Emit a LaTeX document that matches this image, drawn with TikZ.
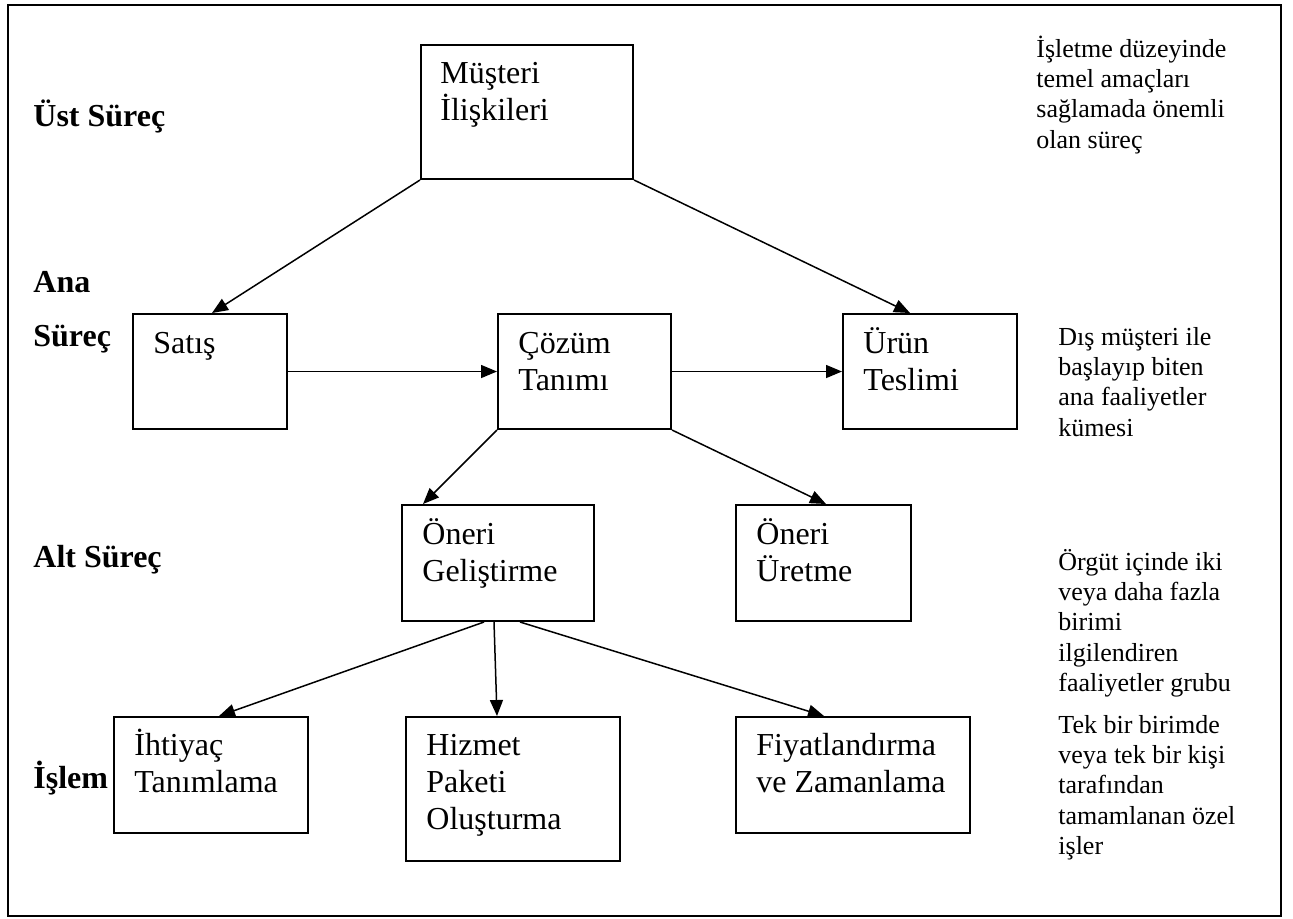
\documentclass[tikz,border=0pt]{standalone}
\usepackage{fontspec}
\setmainfont{Liberation Serif}
\usetikzlibrary{arrows.meta,calc}

\newcommand\lines[1]{\begin{tabular}[t]{@{}l@{}}#1\end{tabular}}

\tikzset{
  frame/.style={draw=black, line width=1pt},
  procbox/.style={draw=black, line width=1pt, rectangle, anchor=north west, inner sep=0pt},
  boxtext/.style={anchor=base west, inner sep=0pt, font=\fontsize{16}{18.5}\selectfont},
  level/.style={anchor=base west, inner sep=0pt, font=\fontsize{16}{27}\selectfont\bfseries},
  note/.style={anchor=base west, inner sep=0pt, font=\fontsize{13}{15.2}\selectfont},
  link/.style={draw=black, line width=0.75pt, -{Triangle[length=8pt,width=6.5pt]}},
}

\begin{document}
\begin{tikzpicture}[x=0.5pt,y=-0.5pt]
  \useasboundingbox (0,0) rectangle (1293,918);
  \draw[frame] (8,5) rectangle (1281,916);

  % process boxes (top-left corner, size in px)
  \node[procbox, minimum width=106pt, minimum height=67pt]  (m)  at (420,44)  {};
  \node[procbox, minimum width=77pt,  minimum height=57.5pt] (s)  at (132,313) {};
  \node[procbox, minimum width=86.5pt,minimum height=57.5pt] (c)  at (497,313) {};
  \node[procbox, minimum width=87pt,  minimum height=57.5pt] (u)  at (842,313) {};
  \node[procbox, minimum width=96pt,  minimum height=58pt]   (og) at (401,504) {};
  \node[procbox, minimum width=87.5pt,minimum height=58pt]   (ou) at (735,504) {};
  \node[procbox, minimum width=97pt,  minimum height=58pt]   (ih) at (113,716) {};
  \node[procbox, minimum width=107pt, minimum height=72pt]   (hz) at (405,716) {};
  \node[procbox, minimum width=117pt, minimum height=58pt]   (fy) at (735,716) {};

  % box captions
  \node[boxtext] (mt)  at ($(m.north west)+(20,39)$)  {\lines{Müşteri\\İlişkileri}};
  \node[boxtext] (st)  at ($(s.north west)+(21,40)$)  {\lines{Satış}};
  \node[boxtext] (ct)  at ($(c.north west)+(21,40)$)  {\lines{Çözüm\\Tanımı}};
  \node[boxtext] (ut)  at ($(u.north west)+(21,40)$)  {\lines{Ürün\\Teslimi}};
  \node[boxtext] (ogt) at ($(og.north west)+(21,40)$) {\lines{Öneri\\Geliştirme}};
  \node[boxtext] (out) at ($(ou.north west)+(21,40)$) {\lines{Öneri\\Üretme}};
  \node[boxtext] (iht) at ($(ih.north west)+(21,39)$) {\lines{İhtiyaç\\Tanımlama}};
  \node[boxtext] (hzt) at ($(hz.north west)+(21,39)$) {\lines{Hizmet\\Paketi\\Oluşturma}};
  \node[boxtext] (fyt) at ($(fy.north west)+(21,39)$) {\lines{Fiyatlandırma\\ve Zamanlama}};

  % level labels
  \node[level] (l1) at (33,126) {Üst Süreç};
  \node[level] (l2) at (33,292) {\lines{Ana\\Süreç}};
  \node[level] (l3) at (33,567) {Alt Süreç};
  \node[level] (l4) at (33,788) {İşlem};

  % level descriptions
  \node[note] (n1) at (1036,57)  {\lines{İşletme düzeyinde\\temel amaçları\\sağlamada önemli\\olan süreç}};
  \node[note] (n2) at (1058,345) {\lines{Dış müşteri ile\\başlayıp biten\\ana faaliyetler\\kümesi}};
  \node[note] (n3) at (1058,570) {\lines{Örgüt içinde iki\\veya daha fazla\\birimi\\ilgilendiren\\faaliyetler grubu}};
  \node[note] (n4) at (1058,733) {\lines{Tek bir birimde\\veya tek bir kişi\\tarafından\\tamamlanan özel\\işler}};

  % connectors
  \draw[link] (m.south west) -- ($(s.north west)+(80,0)$);
  \draw[link] (m.south east) -- ($(u.north west)+(68,0)$);
  \draw[link] (s.east) -- (c.west);
  \draw[link] (c.east) -- (u.west);
  \draw[link] (c.south west) -- ($(og.north west)+(22,0)$);
  \draw[link] (c.south east) -- ($(ou.north west)+(91,0)$);
  \draw[link] ($(og.south west)+(83,0)$)  -- ($(ih.north west)+(106,0)$);
  \draw[link] ($(og.south west)+(93,0)$)  -- ($(hz.north west)+(92,0)$);
  \draw[link] ($(og.south west)+(119,0)$) -- ($(fy.north west)+(89,0)$);
\end{tikzpicture}
\end{document}
